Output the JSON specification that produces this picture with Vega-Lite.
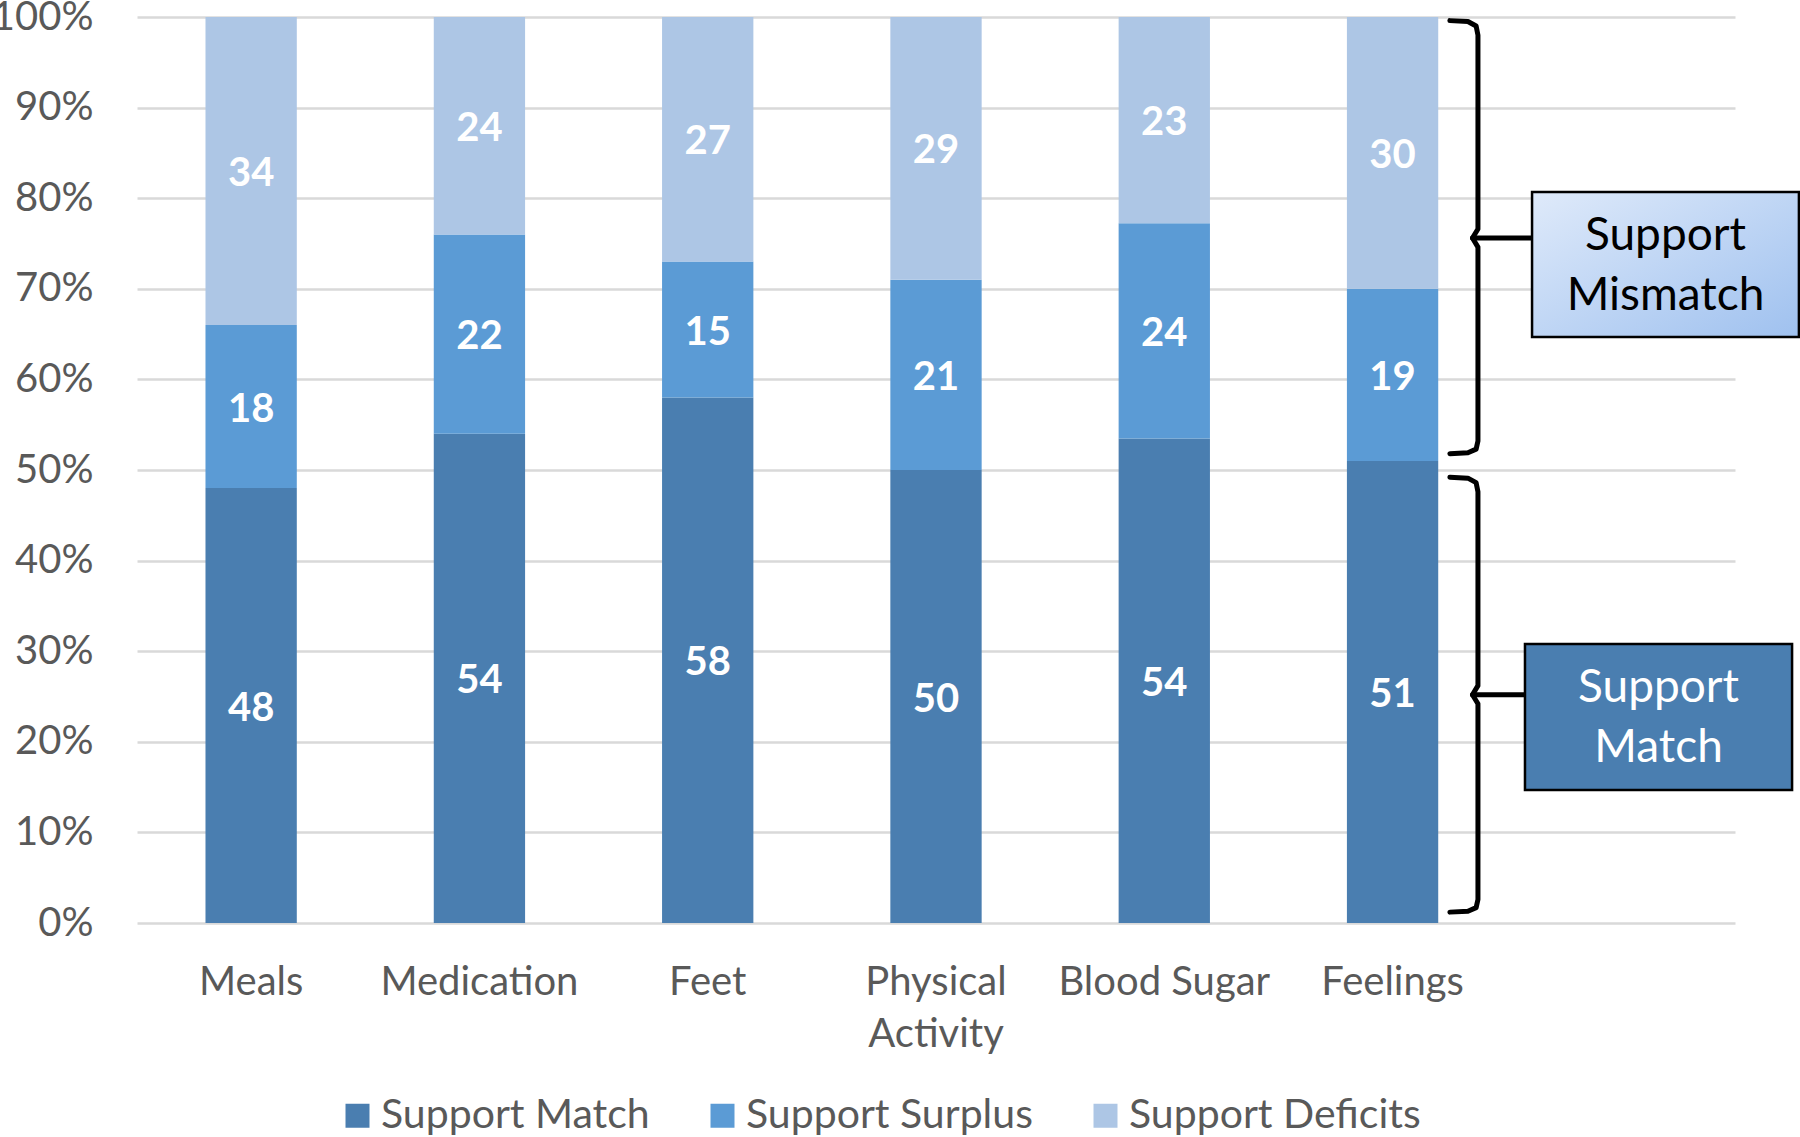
{
  "$schema": "https://vega.github.io/schema/vega-lite/v6.json",
  "width": 1598,
  "height": 906,
  "autosize": {"type": "none"},
  "padding": {"left": 137, "top": 17, "right": 65, "bottom": 214},
  "background": "white",
  "config": {
    "view": {"stroke": null},
    "font": "Lato",
    "axis": {"labelFont": "Lato", "labelColor": "#595959"},
    "legend": {"labelFont": "Lato", "labelColor": "#595959"}
  },
  "resolve": {"scale": {"x": "independent"}, "axis": {"x": "independent"}},
  "layer": [
    {
      "data": {
        "values": [
          {"cat": "Meals", "series": "Support Match", "k": 1, "value": 48},
          {"cat": "Meals", "series": "Support Surplus", "k": 2, "value": 18},
          {"cat": "Meals", "series": "Support Deficits", "k": 3, "value": 34},
          {"cat": "Medication", "series": "Support Match", "k": 1, "value": 54},
          {"cat": "Medication", "series": "Support Surplus", "k": 2, "value": 22},
          {"cat": "Medication", "series": "Support Deficits", "k": 3, "value": 24},
          {"cat": "Feet", "series": "Support Match", "k": 1, "value": 58},
          {"cat": "Feet", "series": "Support Surplus", "k": 2, "value": 15},
          {"cat": "Feet", "series": "Support Deficits", "k": 3, "value": 27},
          {"cat": "Physical Activity", "series": "Support Match", "k": 1, "value": 50},
          {"cat": "Physical Activity", "series": "Support Surplus", "k": 2, "value": 21},
          {"cat": "Physical Activity", "series": "Support Deficits", "k": 3, "value": 29},
          {"cat": "Blood Sugar", "series": "Support Match", "k": 1, "value": 54},
          {"cat": "Blood Sugar", "series": "Support Surplus", "k": 2, "value": 24},
          {"cat": "Blood Sugar", "series": "Support Deficits", "k": 3, "value": 23},
          {"cat": "Feelings", "series": "Support Match", "k": 1, "value": 51},
          {"cat": "Feelings", "series": "Support Surplus", "k": 2, "value": 19},
          {"cat": "Feelings", "series": "Support Deficits", "k": 3, "value": 30}
        ]
      },
      "transform": [
        {"stack": "value", "groupby": ["cat"], "sort": [{"field": "k", "order": "ascending"}], "offset": "normalize", "as": ["y0", "y1"]},
        {"calculate": "(datum.y0 + datum.y1) / 2", "as": "mid"}
      ],
      "encoding": {
        "x": {
          "field": "cat",
          "type": "nominal",
          "sort": null,
          "scale": {
            "domain": ["Meals", "Medication", "Feet", "Physical Activity", "Blood Sugar", "Feelings", "_"],
            "paddingInner": 0.6,
            "paddingOuter": 0.3
          },
          "axis": {
            "title": null,
            "domain": false,
            "ticks": false,
            "labelAngle": 0,
            "labelFontSize": 40,
            "labelPadding": 39,
            "labelLineHeight": 52,
            "labelLimit": 400,
            "labelExpr": "datum.value == 'Physical Activity' ? ['Physical', 'Activity'] : (datum.value == '_' ? '' : datum.label)"
          }
        }
      },
      "layer": [
        {
          "mark": {"type": "bar"},
          "encoding": {
            "y": {
              "field": "y0",
              "type": "quantitative",
              "scale": {"domain": [0, 1], "nice": false},
              "axis": {
                "title": null,
                "domain": false,
                "ticks": false,
                "values": [0, 0.1, 0.2, 0.3, 0.4, 0.5, 0.6, 0.7, 0.8, 0.9, 1],
                "format": ".0%",
                "labelFontSize": 40,
                "labelPadding": 44,
                "grid": true,
                "gridColor": "#d9d9d9",
                "gridWidth": 2.6
              }
            },
            "y2": {"field": "y1"},
            "color": {
              "field": "series",
              "type": "nominal",
              "scale": {
                "domain": ["Support Match", "Support Surplus", "Support Deficits"],
                "range": ["#4a7eb0", "#5b9bd5", "#adc6e5"]
              },
              "legend": {
                "title": null,
                "orient": "none",
                "direction": "horizontal",
                "legendX": 200,
                "legendY": 1078,
                "symbolType": "square",
                "symbolSize": 576,
                "symbolStrokeWidth": 0,
                "labelFontSize": 41,
                "labelOffset": 3,
                "columnPadding": 52,
                "padding": 0,
                "labelLimit": 500
              }
            }
          }
        },
        {
          "mark": {"type": "text", "font": "Lato", "fontWeight": "bold", "fontSize": 40, "color": "white", "baseline": "middle", "align": "center", "dy": 3},
          "encoding": {
            "y": {"field": "mid", "type": "quantitative"},
            "text": {"field": "value", "type": "quantitative"}
          }
        }
      ]
    },
    {
      "data": {
        "values": [
          {"part": "top", "i": 1, "bx": 5.751, "by": 0.996},
          {"part": "top", "i": 2, "bx": 5.83, "by": 0.995},
          {"part": "top", "i": 3, "bx": 5.866, "by": 0.99},
          {"part": "top", "i": 4, "bx": 5.874, "by": 0.98},
          {"part": "top", "i": 5, "bx": 5.874, "by": 0.766},
          {"part": "top", "i": 6, "bx": 5.85, "by": 0.756},
          {"part": "top", "i": 7, "bx": 5.874, "by": 0.746},
          {"part": "top", "i": 8, "bx": 5.874, "by": 0.532},
          {"part": "top", "i": 9, "bx": 5.866, "by": 0.523},
          {"part": "top", "i": 10, "bx": 5.83, "by": 0.519},
          {"part": "top", "i": 11, "bx": 5.751, "by": 0.518},
          {"part": "topstem", "i": 1, "bx": 5.85, "by": 0.756},
          {"part": "topstem", "i": 2, "bx": 6.111, "by": 0.756},
          {"part": "bot", "i": 1, "bx": 5.751, "by": 0.492},
          {"part": "bot", "i": 2, "bx": 5.83, "by": 0.491},
          {"part": "bot", "i": 3, "bx": 5.866, "by": 0.486},
          {"part": "bot", "i": 4, "bx": 5.874, "by": 0.476},
          {"part": "bot", "i": 5, "bx": 5.874, "by": 0.262},
          {"part": "bot", "i": 6, "bx": 5.85, "by": 0.252},
          {"part": "bot", "i": 7, "bx": 5.874, "by": 0.242},
          {"part": "bot", "i": 8, "bx": 5.874, "by": 0.026},
          {"part": "bot", "i": 9, "bx": 5.866, "by": 0.017},
          {"part": "bot", "i": 10, "bx": 5.83, "by": 0.013},
          {"part": "bot", "i": 11, "bx": 5.751, "by": 0.012},
          {"part": "botstem", "i": 1, "bx": 5.85, "by": 0.252},
          {"part": "botstem", "i": 2, "bx": 6.08, "by": 0.252}
        ]
      },
      "mark": {"type": "line", "color": "black", "strokeWidth": 5, "strokeCap": "round", "strokeJoin": "round", "clip": false},
      "encoding": {
        "x": {"field": "bx", "type": "quantitative", "scale": {"domain": [0, 7], "nice": false, "zero": false}, "axis": null},
        "y": {"field": "by", "type": "quantitative"},
        "detail": {"field": "part", "type": "nominal"},
        "order": {"field": "i", "type": "quantitative"}
      }
    },
    {
      "data": {"values": [{"label": "Support\nMismatch", "x1": 6.111, "x2": 7.28, "y1": 0.8068, "y2": 0.6468}]},
      "transform": [
        {"calculate": "(datum.x1 + datum.x2) / 2", "as": "cx"},
        {"calculate": "(datum.y1 + datum.y2) / 2", "as": "cy"}
      ],
      "layer": [
        {
          "mark": {
            "type": "rect",
            "stroke": "black",
            "strokeWidth": 2.5,
            "clip": false,
            "fill": {
              "gradient": "linear",
              "x1": 0, "y1": 0, "x2": 1, "y2": 1,
              "stops": [
                {"offset": 0, "color": "#dfeafa"},
                {"offset": 1, "color": "#9fc1ef"}
              ]
            }
          },
          "encoding": {
            "x": {"field": "x1", "type": "quantitative", "scale": {"domain": [0, 7], "nice": false, "zero": false}, "axis": null},
            "x2": {"field": "x2"},
            "y": {"field": "y1", "type": "quantitative"},
            "y2": {"field": "y2"}
          }
        },
        {
          "mark": {"type": "text", "font": "Lato", "fontSize": 46, "lineHeight": 60, "lineBreak": "\n", "color": "black", "align": "center", "baseline": "middle", "dy": -29, "clip": false},
          "encoding": {
            "x": {"field": "cx", "type": "quantitative", "axis": null},
            "y": {"field": "cy", "type": "quantitative"},
            "text": {"field": "label"}
          }
        }
      ]
    },
    {
      "data": {"values": [{"label": "Support\nMatch", "x1": 6.08, "x2": 7.25, "y1": 0.3079, "y2": 0.1468}]},
      "transform": [
        {"calculate": "(datum.x1 + datum.x2) / 2", "as": "cx"},
        {"calculate": "(datum.y1 + datum.y2) / 2", "as": "cy"}
      ],
      "layer": [
        {
          "mark": {"type": "rect", "stroke": "black", "strokeWidth": 2.5, "fill": "#4a7eb0", "clip": false},
          "encoding": {
            "x": {"field": "x1", "type": "quantitative", "scale": {"domain": [0, 7], "nice": false, "zero": false}, "axis": null},
            "x2": {"field": "x2"},
            "y": {"field": "y1", "type": "quantitative"},
            "y2": {"field": "y2"}
          }
        },
        {
          "mark": {"type": "text", "font": "Lato", "fontSize": 46, "lineHeight": 60, "lineBreak": "\n", "color": "white", "align": "center", "baseline": "middle", "dy": -29, "clip": false},
          "encoding": {
            "x": {"field": "cx", "type": "quantitative", "axis": null},
            "y": {"field": "cy", "type": "quantitative"},
            "text": {"field": "label"}
          }
        }
      ]
    }
  ]
}
